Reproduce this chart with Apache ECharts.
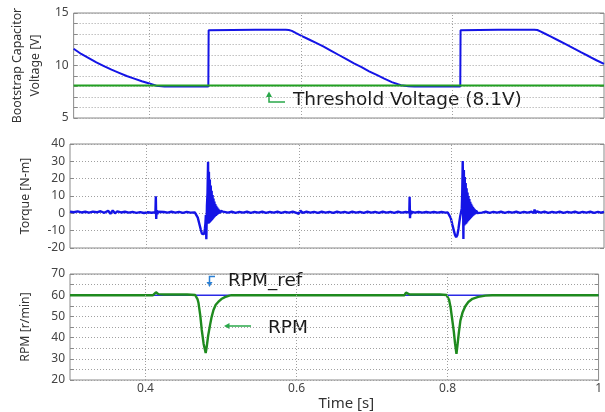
<!DOCTYPE html>
<html><head><meta charset="utf-8">
<script src="https://cdn.jsdelivr.net/npm/echarts@6/dist/echarts.min.js"></script>
<style>html,body{margin:0;padding:0;background:#fff}#c{width:605px;height:412px}</style>
</head><body><div id="c"></div>
<script>
// ---------- data ----------
const timeGridTicks = [0.4, 0.6, 0.8];
const thresholdVoltage = 8.1;
const rpmRefValue = 60;

const bootstrapVoltage = [
 [0.300,11.6],[0.310,11.1],[0.320,10.7],[0.330,10.3],[0.340,9.95],[0.350,9.6],[0.360,9.3],[0.370,9.0],
 [0.380,8.75],[0.390,8.5],[0.400,8.28],[0.409,8.08],[0.420,8.0],[0.4778,8.0],[0.4782,13.35],[0.4795,13.38],
 [0.540,13.4],[0.580,13.4],[0.584,13.38],[0.588,13.3],[0.593,13.1],[0.600,12.85],[0.610,12.5],[0.620,12.15],
 [0.630,11.8],[0.640,11.4],[0.650,11.0],[0.660,10.6],[0.670,10.2],[0.680,9.85],[0.690,9.45],[0.700,9.1],
 [0.710,8.75],[0.720,8.42],[0.732,8.12],[0.742,8.02],[0.750,8.0],[0.8103,8.0],[0.8107,13.35],[0.8120,13.38],
 [0.860,13.4],[0.908,13.4],[0.912,13.38],[0.916,13.25],[0.921,13.07],[0.930,12.75],[0.940,12.38],[0.950,12.02],
 [0.960,11.63],[0.970,11.25],[0.980,10.88],[0.990,10.5],[1.000,10.15]
];

const torque = [
 [0.300,1.0],[0.305,0.6],[0.310,1.1],[0.315,0.5],[0.320,0.9],[0.325,0.4],[0.330,1.0],[0.335,0.6],[0.340,1.2],
 [0.345,0.3],[0.350,1.5],[0.353,-0.2],[0.356,1.6],[0.359,0.0],[0.362,1.1],[0.367,0.5],[0.372,0.9],[0.377,0.4],
 [0.382,0.8],[0.387,0.3],[0.392,0.7],[0.397,0.2],[0.402,0.6],[0.407,0.3],[0.4120,0.6],
 [0.4125,9.8],[0.4130,-3.3],[0.4136,1.8],[0.4145,-0.5],[0.4155,0.9],[0.418,0.3],[0.423,0.8],[0.428,0.4],
 [0.433,0.9],[0.438,0.4],[0.443,0.8],[0.448,0.3],[0.453,0.8],[0.458,0.4],[0.4636,0.5],
 [0.4655,-0.5],[0.4675,-2.5],[0.4695,-6],[0.4715,-9.5],[0.4730,-11.8],[0.4745,-12.8],[0.4758,-12.0],
 [0.4768,-9],[0.4775,-6],[0.4781,-1],[0.4787,-15],[0.4795,4],[0.4803,12],[0.4810,29.8],
 [0.4815,-6],[0.4821,24],[0.4827,-5.5],[0.4833,19.5],[0.4839,-5],[0.4845,16],[0.4851,-4.4],[0.4857,13],
 [0.4863,-3.8],[0.4869,10.5],[0.4875,-3.2],[0.4881,8.5],[0.4887,-2.6],[0.4893,6.8],[0.4899,-2.0],[0.4905,5.4],
 [0.4911,-1.5],[0.4917,4.3],[0.4923,-1.0],[0.4929,3.4],[0.4935,-0.6],[0.4941,2.7],[0.4947,-0.3],[0.4953,2.1],
 [0.4959,0.0],[0.4965,1.7],[0.4971,0.2],[0.4977,1.4],[0.4990,0.4],[0.5005,1.0],
 [0.507,0.4],[0.512,0.9],[0.517,0.3],[0.522,0.8],[0.527,0.4],[0.532,0.9],[0.537,0.3],[0.542,0.8],[0.547,0.4],
 [0.552,0.9],[0.557,0.3],[0.562,0.8],[0.567,0.4],[0.572,0.9],[0.577,0.3],[0.582,0.8],[0.587,0.4],[0.592,0.9],
 [0.597,0.3],[0.600,-0.3],[0.602,1.6],[0.605,0.3],[0.610,0.9],[0.615,0.4],[0.620,0.8],[0.625,0.3],[0.630,0.9],
 [0.635,0.4],[0.640,0.8],[0.645,0.3],[0.650,0.9],[0.655,0.4],[0.660,0.8],[0.665,0.3],[0.670,0.9],[0.675,0.4],
 [0.680,0.8],[0.685,0.3],[0.690,0.9],[0.695,0.4],[0.700,0.8],[0.705,0.3],[0.710,0.9],[0.715,0.4],[0.720,0.8],
 [0.725,0.3],[0.730,0.9],[0.735,0.4],[0.740,0.8],[0.7448,0.5],
 [0.7452,9.6],[0.7457,-2.8],[0.7463,1.6],[0.7471,-0.4],[0.7482,0.8],[0.752,0.4],[0.757,0.8],[0.762,0.4],
 [0.767,0.8],[0.772,0.4],[0.777,0.8],[0.782,0.4],[0.787,0.8],[0.792,0.4],[0.7952,0.5],
 [0.7972,-0.6],[0.7992,-2.8],[0.8012,-6.5],[0.8032,-10],[0.8047,-12.5],[0.8062,-13.8],[0.8077,-12.6],
 [0.8092,-9],[0.8104,-5],[0.8116,-1.5],[0.8128,1],[0.8136,3],[0.8142,12],[0.8148,30.2],[0.8157,-14.8],
 [0.8163,25],[0.8169,-7],[0.8175,21],[0.8181,-6.5],[0.8187,17.5],[0.8193,-6],[0.8199,14.5],[0.8205,-5.3],
 [0.8211,12],[0.8217,-4.6],[0.8223,10],[0.8229,-4],[0.8235,8.2],[0.8241,-3.4],[0.8247,6.7],[0.8253,-2.8],
 [0.8259,5.5],[0.8265,-2.2],[0.8271,4.5],[0.8277,-1.7],[0.8283,3.6],[0.8289,-1.2],[0.8295,2.9],[0.8301,-0.8],
 [0.8307,2.3],[0.8313,-0.4],[0.8319,1.8],[0.8325,-0.1],[0.8331,1.5],[0.8337,0.2],[0.835,1.0],
 [0.840,0.4],[0.845,0.9],[0.850,0.3],[0.855,0.8],[0.860,0.4],[0.865,0.9],[0.870,0.3],[0.875,0.8],[0.880,0.4],
 [0.885,0.9],[0.890,0.3],[0.895,0.8],[0.900,0.4],[0.905,0.9],[0.908,0.2],[0.909,2.2],[0.910,0.0],[0.912,1.2],
 [0.917,0.4],[0.922,0.9],[0.927,0.3],[0.932,0.8],[0.937,0.4],[0.942,0.9],[0.947,0.3],[0.952,0.8],[0.957,0.4],
 [0.962,0.9],[0.967,0.3],[0.972,0.8],[0.977,0.4],[0.982,0.9],[0.987,0.3],[0.992,0.8],[0.996,0.4],[1.000,0.8]
];

const rpm = [
 [0.300,60.0],[0.410,60.0],[0.4125,60.4],[0.4139,61.4],[0.4150,60.9],[0.417,60.5],[0.425,60.3],[0.455,60.3],
 [0.4658,60.1],[0.4675,59.3],[0.4690,58.0],[0.4702,56.3],[0.4725,50.5],[0.4745,43.6],[0.4770,37.0],[0.4797,32.7],
 [0.4810,35.5],[0.4830,41.0],[0.4855,46.0],[0.4876,49.8],[0.4900,53.0],[0.4930,55.5],[0.4963,56.8],[0.5005,58.2],
 [0.5051,59.1],[0.5100,59.7],[0.5140,60.0],[0.743,60.0],[0.7450,61.2],[0.7465,60.6],[0.750,60.3],[0.790,60.3],
 [0.7987,60.1],[0.8005,59.4],[0.8020,57.8],[0.8039,54.6],[0.8060,49.0],[0.8083,42.8],[0.8100,37.0],[0.8118,32.3],
 [0.8130,36.0],[0.8150,42.5],[0.8170,48.0],[0.8200,52.0],[0.8235,54.8],[0.8275,56.8],[0.8330,58.3],[0.8406,59.2],
 [0.8500,59.8],[0.8590,60.0],[1.000,60.0]
];

const yRanges = [ {min:5, max:15, step:1, labelEvery:5}, {min:-20, max:40, step:10, labelEvery:10}, {min:20, max:70, step:5, labelEvery:10} ];
const yTitles = ['Bootstrap Capacitor\nVoltage [V]', 'Torque [N-m]', 'RPM [r/min]'];

// ---------- chart ----------
const FONT = 'Noto Sans';
const ANNO_FONT = 'DejaVu Sans';
const chart = echarts.init(document.getElementById('c'), null, {renderer:'canvas'});
const grids = [
  {left:70, right:1, top:13, height:105},
  {left:70, right:1, top:144, height:104},
  {left:70, right:1, top:274, height:106}
].map(g => Object.assign({show:true, borderColor:'#8a8a8a', borderWidth:1, backgroundColor:'transparent'}, g));

const dotted = {color:'#a0a0a0', type:[1,2], width:1};

const xAxes = [0,1,2].map(i => ({
  type:'value', gridIndex:i, min:0.3, max:1.0, interval:0.1,
  axisLine:{show:false}, axisTick:{show:false}, splitLine:{show:false},
  axisLabel:{show:i===2, margin:3, fontSize:12, color:'#444', fontFamily:FONT, showMaxLabel:true, showMinLabel:true,
    formatter:v => { const r=Math.round(v*10); return (r%2===0 && r>=4) ? (r===10?'1':(r/10).toFixed(1)) : ''; } },
  name: i===2 ? 'Time [s]' : '', nameLocation:'middle', nameGap:14,
  nameTextStyle:{fontSize:15, color:'#333', fontFamily:FONT, padding:[0,0,0,24]}
}));

const yAxes = [];
[0,1,2].forEach(i => {
  const r = yRanges[i];
  yAxes.push({
    type:'value', gridIndex:i, min:r.min, max:r.max, interval:r.step, position:'left',
    axisLine:{show:false}, axisTick:{show:true, inside:true, length:4, lineStyle:{color:'#8a8a8a'}},
    splitLine:{show:true, lineStyle:dotted},
    axisLabel:{margin:5, fontSize:12, color:'#444', fontFamily:FONT, formatter:v => (Math.round(v)%r.labelEvery===0 ? String(v) : '')},
    name:yTitles[i], nameLocation:'middle', nameGap: i===0 ? 28 : 36,
    nameTextStyle:{fontSize:12.3, color:'#333', fontFamily:FONT, lineHeight:18}
  });
});
[0,1,2].forEach(i => {
  const r = yRanges[i];
  yAxes.push({
    type:'value', gridIndex:i, min:r.min, max:r.max, interval:r.step, position:'right',
    axisLine:{show:false}, axisTick:{show:true, inside:true, length:4, lineStyle:{color:'#8a8a8a'}},
    splitLine:{show:false}, axisLabel:{show:false}
  });
});

const lineBase = {type:'line', showSymbol:false, symbol:'none', animation:false, silent:true};
const series = [];
// vertical dotted grid lines at 0.4, 0.6, 0.8
[0,1,2].forEach(i => {
  series.push(Object.assign({}, lineBase, {
    xAxisIndex:i, yAxisIndex:i, data:[[0.3, yRanges[i].min]], lineStyle:{width:0}, z:1,
    markLine:{silent:true, symbol:['none','none'], label:{show:false}, animation:false,
      lineStyle:dotted, data:timeGridTicks.map(t => ({xAxis:t}))}
  }));
});
series.push(Object.assign({}, lineBase, {name:'Bootstrap', xAxisIndex:0, yAxisIndex:0, data:bootstrapVoltage, lineStyle:{color:'#1414e6', width:2}, z:3}));
series.push(Object.assign({}, lineBase, {name:'Threshold', xAxisIndex:0, yAxisIndex:0, data:[[0.3,thresholdVoltage],[1.0,thresholdVoltage]], lineStyle:{color:'#22a022', width:2}, z:4}));
series.push(Object.assign({}, lineBase, {name:'Torque', xAxisIndex:1, yAxisIndex:1, data:torque, lineStyle:{color:'#1414e6', width:2.4}, z:3}));
series.push(Object.assign({}, lineBase, {name:'RPM_ref', xAxisIndex:2, yAxisIndex:2, data:[[0.3,rpmRefValue],[1.0,rpmRefValue]], lineStyle:{color:'#2a2ae6', width:1.6}, z:3}));
series.push(Object.assign({}, lineBase, {name:'RPM', xAxisIndex:2, yAxisIndex:2, data:rpm, lineStyle:{color:'#1e8a1e', width:2.4}, z:4}));

const annoFont = {fontSize:18.5, fill:'#1a1a1a', fontFamily:ANNO_FONT};
const graphic = [
  {type:'polyline', shape:{points:[[285,102],[269,102],[269,96]]}, style:{stroke:'#2aa84a', lineWidth:1.5, fill:null}},
  {type:'polygon', shape:{points:[[266,97],[272,97],[269,91.5]]}, style:{fill:'#2aa84a'}},
  {type:'text', left:293, top:90.5, style:Object.assign({text:'Threshold Voltage (8.1V)'}, annoFont)},
  {type:'polyline', shape:{points:[[215,276.5],[209.5,276.5],[209.5,282]]}, style:{stroke:'#2a7fd4', lineWidth:1.5, fill:null}},
  {type:'polygon', shape:{points:[[206.5,282],[212.5,282],[209.5,287]]}, style:{fill:'#2a7fd4'}},
  {type:'text', left:228, top:271.5, style:Object.assign({text:'RPM_ref'}, annoFont)},
  {type:'polyline', shape:{points:[[251,326],[229,326]]}, style:{stroke:'#2aa84a', lineWidth:1.5, fill:null}},
  {type:'polygon', shape:{points:[[229.5,323],[229.5,329],[224,326]]}, style:{fill:'#2aa84a'}},
  {type:'text', left:268, top:318.5, style:Object.assign({text:'RPM'}, annoFont)}
];

chart.setOption({
  animation:false,
  backgroundColor:'#ffffff',
  grid:grids, xAxis:xAxes, yAxis:yAxes, series:series, graphic:graphic
});
</script></body></html>
